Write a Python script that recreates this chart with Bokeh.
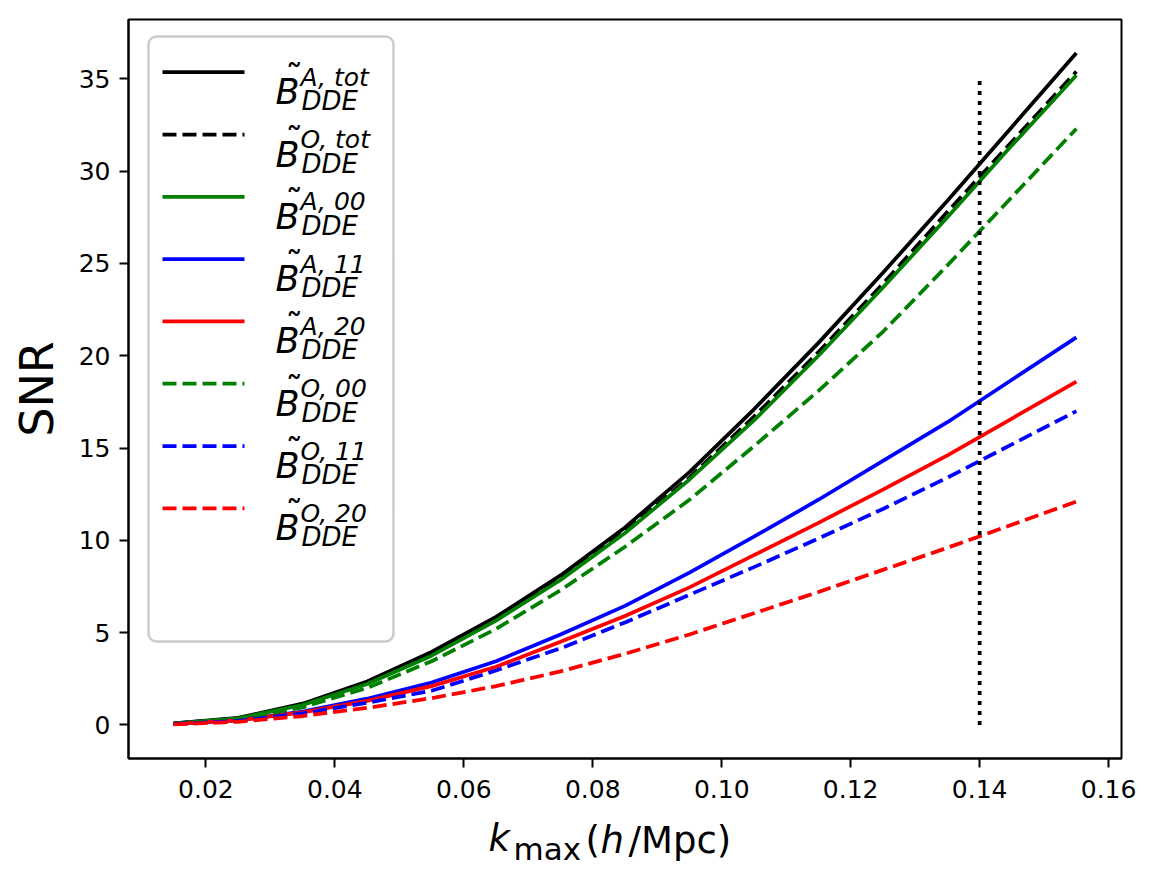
from bokeh.plotting import figure
from bokeh.layouts import column
from bokeh.models import Range1d, FixedTicker, Label, Arrow, BoxAnnotation
from bokeh.core.properties import value
from bokeh.embed import file_html
from bokeh.resources import INLINE

# ---------------- data ----------------
k_max = [0.015, 0.025, 0.035, 0.045, 0.055, 0.065, 0.075, 0.085,
         0.095, 0.105, 0.115, 0.125, 0.135, 0.145, 0.155]

snr_A_tot = [0.08, 0.38, 1.15, 2.35, 3.95, 5.85, 8.1, 10.7, 13.7, 17.1, 20.7, 24.5, 28.4, 32.4, 36.4]
snr_O_tot = [0.07, 0.36, 1.10, 2.25, 3.80, 5.70, 7.9, 10.5, 13.4, 16.7, 20.2, 23.9, 27.8, 31.6, 35.4]
snr_A_00 = [0.07, 0.36, 1.08, 2.22, 3.75, 5.65, 7.85, 10.4, 13.3, 16.5, 20.0, 23.7, 27.5, 31.4, 35.2]
snr_A_11 = [0.05, 0.25, 0.72, 1.42, 2.30, 3.45, 4.9, 6.45, 8.25, 10.2, 12.2, 14.3, 16.4, 18.7, 21.0]
snr_A_20 = [0.05, 0.24, 0.68, 1.30, 2.10, 3.15, 4.5, 5.9, 7.45, 9.2, 10.95, 12.75, 14.6, 16.6, 18.6]
snr_O_00 = [0.06, 0.32, 0.95, 2.00, 3.45, 5.20, 7.3, 9.65, 12.2, 15.1, 18.1, 21.3, 24.9, 28.6, 32.3]
snr_O_11 = [0.04, 0.22, 0.62, 1.20, 1.85, 2.95, 4.15, 5.55, 7.05, 8.55, 10.1, 11.7, 13.4, 15.2, 17.0]
snr_O_20 = [0.03, 0.17, 0.48, 0.92, 1.45, 2.10, 2.9, 3.85, 4.9, 6.05, 7.2, 8.4, 9.6, 10.85, 12.1]

series_sup = ["A, tot", "O, tot", "A, 00", "A, 11", "A, 20", "O, 00", "O, 11", "O, 20"]
series_sub = "DDE"
series_colors = ["black", "black", "green", "blue", "red", "green", "blue", "red"]
series_dashed = [False, True, False, False, False, True, True, True]
series_values = [snr_A_tot, snr_O_tot, snr_A_00, snr_A_11, snr_A_20, snr_O_00, snr_O_11, snr_O_20]

vline_x = 0.14
vline_y = [0, 35]

x_ticks = [0.02, 0.04, 0.06, 0.08, 0.10, 0.12, 0.14, 0.16]
x_tick_labels = ["0.02", "0.04", "0.06", "0.08", "0.10", "0.12", "0.14", "0.16"]
y_ticks = [0, 5, 10, 15, 20, 25, 30, 35]

y_title = "SNR"
x_title_parts = ["k", "max", "(", "h", "/Mpc)"]
x_title_styles = ["italic", "normal", "normal", "italic", "normal"]

# ---------------- styling ----------------
FONT = "DejaVu Sans"
LW = 3.75
DASH = "14 6"
DOT = "4 6"

PAGE_W = 1150
PAGE_H = 876
FRAME_LEFT = 128
FRAME_TOP = 19
FRAME_W = 993
FRAME_H = 739
FRAME_RIGHT_BORDER = PAGE_W - FRAME_LEFT - FRAME_W
FRAME_BOTTOM = FRAME_TOP + FRAME_H
MAIN_BOTTOM_BORDER = 60
MAIN_H = FRAME_BOTTOM + MAIN_BOTTOM_BORDER
TITLE_H = PAGE_H - MAIN_H

xmin, xmax = min(k_max), max(k_max)
xpad = 0.05 * (xmax - xmin)
all_y = [v for s in series_values for v in s] + list(vline_y)
ymin, ymax = min(all_y), max(all_y)
ypad = 0.05 * (ymax - ymin)

p = figure(title=None, frame_width=FRAME_W, frame_height=FRAME_H,
           min_border_left=FRAME_LEFT, min_border_right=FRAME_RIGHT_BORDER,
           min_border_top=FRAME_TOP, min_border_bottom=MAIN_BOTTOM_BORDER,
           x_range=Range1d(xmin - xpad, xmax + xpad),
           y_range=Range1d(ymin - ypad, ymax + ypad),
           output_backend="svg", toolbar_location=None, align="start")

p.grid.visible = False
p.outline_line_color = "black"
p.outline_line_width = 2
p.outline_line_alpha = 1.0
p.background_fill_color = "white"
p.border_fill_color = "white"

for ax in (p.xaxis[0], p.yaxis[0]):
    ax.axis_line_width = 2
    ax.axis_line_color = "black"
    ax.major_tick_line_width = 2
    ax.major_tick_line_color = "black"
    ax.major_tick_out = 9
    ax.major_tick_in = 0
    ax.minor_tick_out = 0
    ax.minor_tick_in = 0
    ax.major_label_text_font = FONT
    ax.major_label_text_font_size = "25px"
    ax.major_label_text_color = "black"

p.xaxis.ticker = FixedTicker(ticks=x_ticks)
p.xaxis.major_label_overrides = {t: l for t, l in zip(x_ticks, x_tick_labels)}
p.xaxis.major_label_standoff = 12
p.yaxis.ticker = FixedTicker(ticks=y_ticks)
p.yaxis.major_label_standoff = 9

p.yaxis.axis_label = y_title
p.yaxis.axis_label_text_font = FONT
p.yaxis.axis_label_text_font_size = "46px"
p.yaxis.axis_label_text_font_style = "normal"
p.yaxis.axis_label_text_color = "black"
p.yaxis.axis_label_standoff = 12

# ---------------- curves ----------------
for vals, col, dashed in zip(series_values, series_colors, series_dashed):
    p.line(k_max, vals, line_color=col, line_width=LW,
           line_dash=DASH if dashed else "solid", line_cap="butt")

p.line([vline_x, vline_x], vline_y, line_color="black", line_width=LW,
       line_dash=DOT, line_cap="butt")

# ---------------- legend (frame-relative screen units) ----------------
def sy(page_y):
    return FRAME_BOTTOM - page_y

def sx(page_x):
    return page_x - FRAME_LEFT

p.add_layout(BoxAnnotation(left=sx(148), right=sx(393), top=sy(36), bottom=sy(641),
                           left_units="screen", right_units="screen",
                           top_units="screen", bottom_units="screen",
                           fill_color="white", fill_alpha=0.8,
                           line_color="#cccccc", line_width=2.5, line_alpha=1.0,
                           border_radius=8))

def flabel(text, px, py, size, style="normal"):
    p.add_layout(Label(x=sx(px), y=sy(py), x_units="screen", y_units="screen",
                       text=text, text_font=FONT, text_font_style=style,
                       text_font_size=size, text_color="black",
                       text_align="left", text_baseline="alphabetic"))

for i, (sup, col, dashed) in enumerate(zip(series_sup, series_colors, series_dashed)):
    ly = 71.7 + 62.3 * i
    p.add_layout(Arrow(x_start=sx(162), y_start=sy(ly), x_end=sx(244), y_end=sy(ly),
                       start_units="screen", end_units="screen",
                       start=None, end=None, line_color=col, line_width=LW,
                       line_dash=DASH if dashed else "solid", line_cap="butt"))
    flabel("B", 275, ly + 20, "35px", "italic")
    flabel("\u02dc", 285, ly + 6, "35px")
    flabel(sup, 300, ly + 5, "25px", "italic")
    flabel(series_sub, 301, ly + 29, "26px", "italic")

# ---------------- x axis title strip (frame aligned with main plot) ----------------
t = figure(title=None, frame_width=FRAME_W, frame_height=TITLE_H,
           x_range=Range1d(FRAME_LEFT, FRAME_LEFT + FRAME_W),
           y_range=Range1d(0, TITLE_H),
           min_border_left=FRAME_LEFT, min_border_right=FRAME_RIGHT_BORDER,
           min_border_top=0, min_border_bottom=0,
           x_axis_type=None, y_axis_type=None,
           output_backend="svg", toolbar_location=None, align="start")
t.grid.visible = False
t.outline_line_color = None
t.background_fill_color = "white"
t.border_fill_color = "white"

Y_FIX = 10
title_px = [488, 513, 585, 600, 628]
title_py = [848, 858, 850, 850, 850]
title_size = ["37px", "31px", "37px", "37px", "37px"]
for txt, px, py, sz, st in zip(x_title_parts, title_px, title_py, title_size, x_title_styles):
    t.text(x=[px], y=[PAGE_H - py + Y_FIX], text=[txt], text_font=value(FONT),
           text_font_style=st, text_font_size=sz, text_color="black",
           text_align="left", text_baseline="alphabetic")

layout = column(p, t, spacing=0, align="start")
open("out.html", "w").write(file_html(layout, INLINE))
